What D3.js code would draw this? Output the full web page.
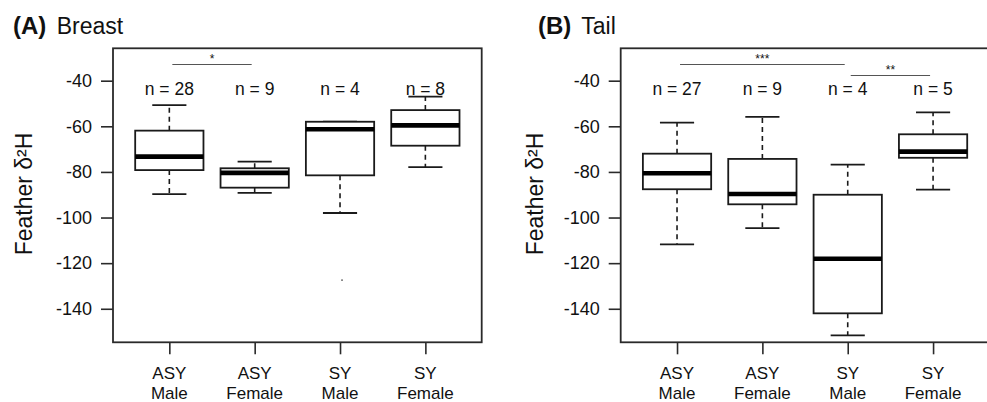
<!DOCTYPE html>
<html><head><meta charset="utf-8">
<script src="https://cdn.jsdelivr.net/npm/d3@7"></script>
<style>body{margin:0;background:#fff}svg{display:block}text{font-family:"Liberation Sans",Arial,sans-serif;fill:#111}</style>
</head><body><svg id="c" width="987" height="402"></svg>
<script>
// ---- data ----
const categories = [["ASY","Male"],["ASY","Female"],["SY","Male"],["SY","Female"]];
const yTicks = [-40,-60,-80,-100,-120,-140];

const breastLow    = [-89.7, -89.2, -98.0, -77.9];
const breastQ1     = [-79.2, -86.9, -81.5, -68.5];
const breastMedian = [-73.3, -80.4, -61.3, -59.6];
const breastQ3     = [-61.9, -78.4, -58.0, -52.9];
const breastHigh   = [-50.7, -75.5, -58.0, -47.0];
const breastN      = [28, 9, 4, 8];
const breastOutliers = [[], [], [-127.4], []];

const tailLow    = [-111.8, -104.6, -151.7, -87.8];
const tailQ1     = [-87.6, -94.2, -142.0, -73.8];
const tailMedian = [-80.6, -89.7, -118.1, -71.1];
const tailQ3     = [-72.0, -74.3, -90.0, -63.5];
const tailHigh   = [-58.4, -55.9, -76.8, -53.9];
const tailN      = [27, 9, 4, 5];
const tailOutliers = [[], [], [], []];

const breastSig = [{from:1, to:2, label:"*", level:0}];
const tailSig = [{from:1, to:3, label:"***", level:0},{from:3, to:4, label:"**", level:1}];

// ---- drawing ----
const svg = d3.select("#c");
const plotTop = 48.3, plotBottom = 342.3;
const y = d3.scaleLinear().domain([-154.7, -25.8]).range([plotBottom, plotTop]);

function panel(opts){
  const g = svg.append("g");
  const x = d3.scaleLinear().domain([0.34, 4.66]).range([opts.left, opts.left + 368.7]);
  const step = x(2) - x(1);
  const bw = step * 0.8;
  // frame
  g.append("rect").attr("x", opts.left).attr("y", plotTop)
    .attr("width", x(4.66)-opts.left).attr("height", plotBottom-plotTop)
    .attr("fill","none").attr("stroke","#2a2a2a").attr("stroke-width",1.8);
  // y axis
  const ya = g.append("g").attr("transform",`translate(${opts.left},0)`)
    .call(d3.axisLeft(y).tickValues(yTicks).tickSize(12).tickPadding(9).tickFormat(d3.format("d")));
  ya.select(".domain").remove();
  ya.selectAll(".tick line").attr("stroke","#2a2a2a").attr("stroke-width",1.6);
  ya.selectAll(".tick text").style("font-size","18px").attr("fill","#111").text(d => String(d));
  // x axis
  const xa = g.append("g").attr("transform",`translate(0,${plotBottom})`)
    .call(d3.axisBottom(x).tickValues([1,2,3,4]).tickSize(12).tickFormat(""));
  xa.select(".domain").remove();
  xa.selectAll(".tick line").attr("stroke","#2a2a2a").attr("stroke-width",1.6);
  categories.forEach((c,i)=>{
    const t = g.append("text").attr("x", x(i+1)).attr("text-anchor","middle").style("font-size","17px");
    t.append("tspan").attr("x", x(i+1)).attr("y", 378.5).text(c[0]);
    t.append("tspan").attr("x", x(i+1)).attr("y", 398.5).text(c[1]);
  });
  // boxes
  categories.forEach((c,i)=>{
    const cx = x(i+1);
    const d = opts;
    [[d.q3[i], d.high[i]],[d.q1[i], d.low[i]]].forEach(([a,b])=>{
      if (Math.abs(a-b) > 0.01) {
        g.append("line").attr("x1",cx).attr("x2",cx).attr("y1",y(a)).attr("y2",y(b))
          .attr("stroke","#1a1a1a").attr("stroke-width",1.6).attr("stroke-dasharray","5,4");
      }
      g.append("line").attr("x1",cx-bw/4).attr("x2",cx+bw/4).attr("y1",y(b)).attr("y2",y(b))
        .attr("stroke","#1a1a1a").attr("stroke-width",1.8);
    });
    g.append("rect").attr("x",cx-bw/2).attr("y",y(d.q3[i])).attr("width",bw)
      .attr("height",y(d.q1[i])-y(d.q3[i])).attr("fill","#fff").attr("stroke","#1a1a1a").attr("stroke-width",1.8);
    g.append("line").attr("x1",cx-bw/2).attr("x2",cx+bw/2).attr("y1",y(d.med[i])).attr("y2",y(d.med[i]))
      .attr("stroke","#000").attr("stroke-width",4.6);
    d.out[i].forEach(v=>{
      g.append("circle").attr("cx",cx+2).attr("cy",y(v)).attr("r",0.9).attr("fill","#555");
    });
    g.append("text").attr("x",cx).attr("y",94.5).attr("text-anchor","middle").style("font-size","17.5px")
      .text("n = " + d.n[i]);
  });
  // significance
  opts.sig.forEach(s=>{
    const ly = 64.5 + s.level*11;
    g.append("line").attr("x1", x(s.from)+3).attr("x2", x(s.to)-3).attr("y1", ly).attr("y2", ly)
      .attr("stroke","#555").attr("stroke-width",1.1);
    g.append("text").attr("x", (x(s.from)+x(s.to))/2).attr("y", ly-2).attr("text-anchor","middle")
      .style("font-size","12px").text(s.label);
  });
  // title
  const t = svg.append("text").attr("x", opts.titleX).attr("y", 34).style("font-size","23px");
  t.append("tspan").style("font-weight","bold").style("font-size","24px").text(opts.tag);
  t.append("tspan").attr("dx", 4).text(" " + opts.title);
  // y label
  svg.append("text").attr("transform",`translate(${opts.ylabX},194) rotate(-90)`)
    .attr("text-anchor","middle").style("font-size","23px").text("Feather δ²H");
}

panel({left:113, titleX:13, ylabX:31.5, tag:"(A)", title:"Breast",
  low:breastLow, q1:breastQ1, med:breastMedian, q3:breastQ3, high:breastHigh, n:breastN, out:breastOutliers, sig:breastSig});
panel({left:620.7, titleX:538, ylabX:542.5, tag:"(B)", title:"Tail",
  low:tailLow, q1:tailQ1, med:tailMedian, q3:tailQ3, high:tailHigh, n:tailN, out:tailOutliers, sig:tailSig});
</script></body></html>
